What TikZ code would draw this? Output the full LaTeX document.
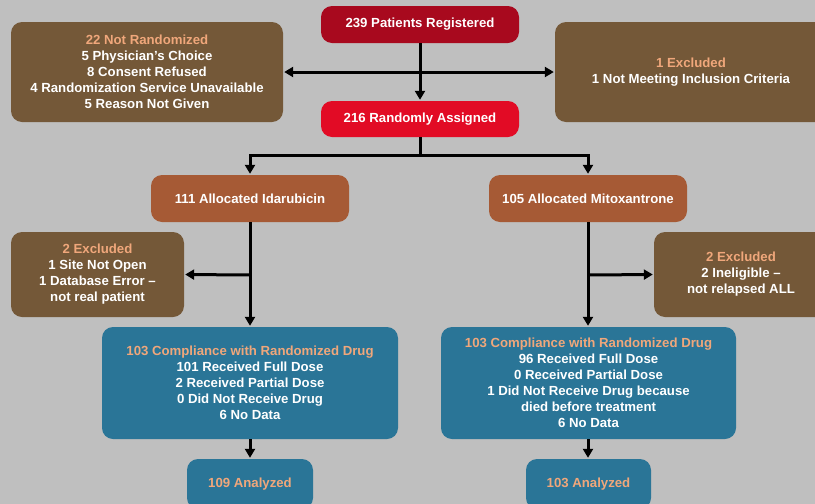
\documentclass[tikz,border=0pt]{standalone}
\usepackage{fontspec}
\setmainfont{Liberation Sans}
\usetikzlibrary{arrows.meta}
\definecolor{bg}{HTML}{BFBFBF}
\definecolor{regred}{HTML}{A8091E}
\definecolor{randred}{HTML}{E20B25}
\definecolor{brownbox}{HTML}{745838}
\definecolor{armbox}{HTML}{A65A35}
\definecolor{bluebox}{HTML}{2A7597}
\definecolor{headtxt}{HTML}{F0A77B}
\tikzset{
  box/.style={rounded corners=11pt, inner sep=0pt, align=center, text=white,
    font=\fontsize{13.2}{16}\selectfont\bfseries},
  flow/.style={line width=3pt, draw=black},
  arr/.style={flow, -{Triangle[width=10pt,length=9pt]}, shorten >=1pt},
}
\newcommand{\hd}[1]{\textcolor{headtxt}{#1}}
\begin{document}
\begin{tikzpicture}[x=1pt,y=-1pt]
  \useasboundingbox (0,0) rectangle (815,504);
  \clip (0,0) rectangle (815,504);
  \fill[bg] (0,0) rectangle (815,504);

  % enrolment
  \node[box, fill=regred, minimum width=198pt, minimum height=37pt] (reg) at (420,24.5) {239 Patients Registered};
  \node[box, fill=randred, minimum width=198pt, minimum height=36pt] (rand) at (420,119) {216 Randomly Assigned};
  \node[box, fill=brownbox, minimum width=272pt, minimum height=100pt] (notrand) at (147,72)
    {\hd{22 Not Randomized}\\5 Physician’s Choice\\8 Consent Refused\\4 Randomization Service Unavailable\\5 Reason Not Given};
  \node[box, fill=brownbox, minimum width=272pt, minimum height=100pt] (excl) at (691,72)
    {\hd{1 Excluded}\\1 Not Meeting Inclusion Criteria};

  % allocation
  \node[box, fill=armbox, minimum width=198pt, minimum height=47pt] (idar) at (250,198.5) {111 Allocated Idarubicin};
  \node[box, fill=armbox, minimum width=198pt, minimum height=47pt] (mito) at (588,198.5) {105 Allocated Mitoxantrone};
  \node[box, fill=brownbox, minimum width=173pt, minimum height=85pt] (exidar) at (97.5,274.5)
    {\hd{2 Excluded}\\1 Site Not Open\\1 Database Error –\\not real patient};
  \node[box, fill=brownbox, minimum width=174pt, minimum height=85pt] (exmito) at (741,274.5)
    {\hd{2 Excluded}\\2 Ineligible –\\not relapsed ALL};

  % compliance
  \node[box, fill=bluebox, minimum width=296pt, minimum height=112pt] (compidar) at (250,383)
    {\hd{103 Compliance with Randomized Drug}\\101 Received Full Dose\\2 Received Partial Dose\\0 Did Not Receive Drug\\6 No Data};
  \node[box, fill=bluebox, minimum width=295pt, minimum height=112pt] (compmito) at (588.5,383)
    {\hd{103 Compliance with Randomized Drug}\\96 Received Full Dose\\0 Received Partial Dose\\1 Did Not Receive Drug because\\died before treatment\\6 No Data};

  % analysis
  \node[box, fill=bluebox, minimum width=126pt, minimum height=50pt] (anidar) at (250,484) {\hd{109 Analyzed}};
  \node[box, fill=bluebox, minimum width=125pt, minimum height=50pt] (anmito) at (588.5,484) {\hd{103 Analyzed}};

  % junctions
  \coordinate (j0) at (420,72);
  \coordinate (jsplit) at (420,155);
  \coordinate (jl) at (250,155);
  \coordinate (jr) at (588,155);
  \coordinate (jidar) at (250,275);
  \coordinate (jmito) at (588,275);

  % connectors
  \draw[arr] (reg.south) -- (rand.north);
  \draw[arr] (j0) -- (notrand.east);
  \draw[arr] (j0) -- (excl.west);
  \draw[flow] (rand.south) -- (jsplit);
  \draw[flow, line cap=rect] (jl) -- (jr);
  \draw[arr] (jl) -- (idar.north);
  \draw[arr] (jr) -- (mito.north);
  \draw[arr] (idar.south) -- (compidar.north);
  \draw[arr] (mito.south) -- (mito.south |- compmito.north);
  \draw[arr] (jidar) -- (exidar.east);
  \draw[arr] (jmito) -- (exmito.west);
  \draw[arr] (compidar.south) -- (anidar.north);
  \draw[arr] (mito.south |- compmito.south) -- (mito.south |- anmito.north);
\end{tikzpicture}
\end{document}
